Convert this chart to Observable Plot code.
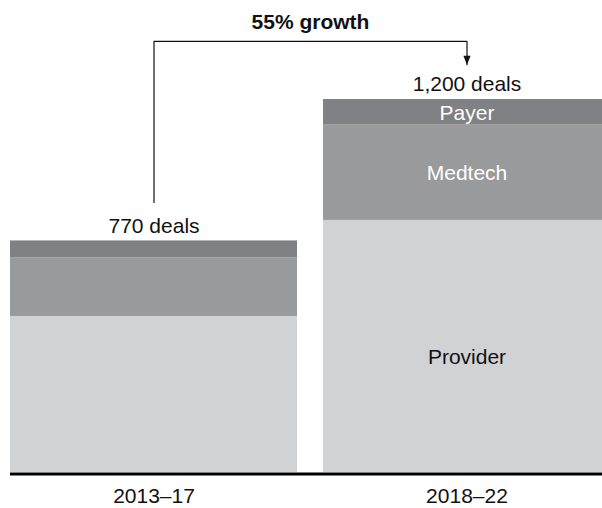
<!DOCTYPE html>
<html><head><meta charset="utf-8">
<script src="https://cdn.jsdelivr.net/npm/d3@7"></script>
<script src="https://cdn.jsdelivr.net/npm/@observablehq/plot@0.6"></script>
<style>body{margin:0;background:#fff}svg{overflow:hidden}</style>
</head><body><div id="chart"></div>
<script>
const periods = ["2013–17", "2018–22"];
const segments = ["Provider", "Medtech", "Payer"];
const provider = [502, 811];
const medtech = [188, 308];
const payer = [55, 81];
const totalLabels = ["770 deals", "1,200 deals"];
const growthLabel = "55% growth";
const segmentColors = ["#d1d2d4", "#999a9b", "#808184"];

const rows = [];
periods.forEach((p, i) => {
  [provider, medtech, payer].forEach((arr, j) =>
    rows.push({period: p, segment: segments[j], value: arr[i]}));
});
const totals = periods.map((p, i) => ({
  period: p, total: provider[i] + medtech[i] + payer[i], label: totalLabels[i]
}));
const lastRows = rows.filter(d => d.period === periods[1]);

// growth bracket (in deal units)
const bracketLevel = 1387;
const bracket = [
  {period: periods[0], y: totals[0].total + 124},
  {period: periods[0], y: bracketLevel},
  {period: periods[1], y: bracketLevel},
  {period: periods[1], y: totals[1].total + 112}
];
const arrowHead = {
  draw(ctx) { ctx.moveTo(-3.6, -9); ctx.lineTo(3.6, -9); ctx.lineTo(0, 0); ctx.closePath(); }
};

const chart = Plot.plot({
  width: 602,
  height: 508,
  marginTop: 99,
  marginBottom: 36,
  marginLeft: 10,
  marginRight: 0,
  style: {fontFamily: "'Liberation Sans', Arial, sans-serif", fontSize: "21px", color: "#111", background: "#fff"},
  x: {domain: periods, range: [10, 610], paddingInner: 0.083, paddingOuter: 0, round: false, label: null, tickSize: 0, tickPadding: 16},
  y: {domain: [0, 1200], axis: null},
  color: {domain: segments, range: segmentColors},
  marks: [
    Plot.barY(rows, {x: "period", y: "value", fill: "segment", order: segments}),
    Plot.ruleY([0], {stroke: "#000", strokeWidth: 2.8, dy: 1.5}),
    Plot.text(lastRows, Plot.stackY({
      x: "period", y: "value", z: "segment", order: segments,
      text: d => d.segment === "Provider" ? "" : d.segment, fill: "#fff", dy: 1
    })),
    Plot.text(lastRows, Plot.stackY({
      x: "period", y: "value", z: "segment", order: segments,
      text: d => d.segment === "Provider" ? d.segment : "", fill: "#111", dy: 11
    })),
    Plot.text(totals, {x: "period", y: "total", text: "label", dy: -15, fill: "#111"}),
    Plot.line(bracket, {x: "period", y: "y", stroke: "#111", strokeWidth: 1.2}),
    Plot.dot([bracket[3]], {x: "period", y: "y", symbol: arrowHead, fill: "#111", stroke: null}),
    Plot.text([{label: growthLabel, y: bracketLevel}], {
      y: "y", text: "label", frameAnchor: "middle", dx: 4, dy: -19, fontWeight: "bold", fill: "#111"
    })
  ]
});
document.getElementById("chart").appendChild(chart);
</script>
</body></html>
